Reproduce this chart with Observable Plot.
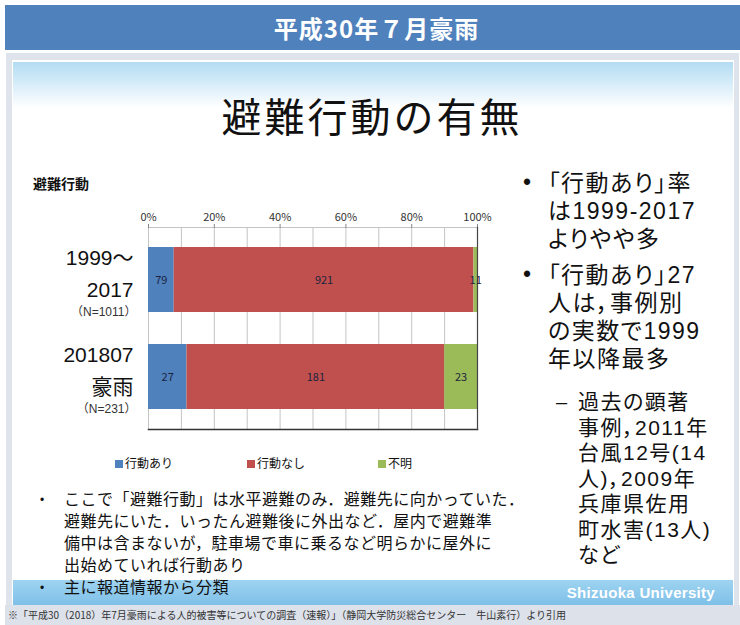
<!DOCTYPE html>
<html><head><meta charset="utf-8">
<script src="https://cdn.jsdelivr.net/npm/d3@7"></script>
<script src="https://cdn.jsdelivr.net/npm/@observablehq/plot@0.6"></script>
<style>
html,body{margin:0;padding:0;background:#fff;}
body{width:740px;height:625px;position:relative;overflow:hidden;font-family:"Noto Sans CJK JP","Noto Sans",sans-serif;color:#111;}
.abs{position:absolute;}
#header{left:5px;top:5px;width:735px;height:45px;background:#4f81bd;color:#fff;font-weight:700;font-size:24px;text-align:center;line-height:45px;padding-left:8px;letter-spacing:1px;box-sizing:border-box;}
#frame{left:6px;top:53px;width:733px;height:553px;background:#dfe3ec;}
#inner{left:12px;top:60px;width:722px;height:546px;background:#fff;}
#grad{left:13px;top:62px;width:720px;height:46px;background:linear-gradient(#b3dcf3,#ffffff);}
#title{left:0;top:90px;width:740px;text-align:center;font-size:40px;letter-spacing:3px;line-height:50px;color:#111;padding-left:4px;box-sizing:border-box;}
#sub{left:33px;top:172px;font-size:14px;font-weight:700;line-height:22px;}
#chart{left:0;top:190px;}
#legend{left:115px;top:453px;font-size:12px;line-height:20px;}
#legend span.item{position:absolute;white-space:nowrap;}
#legend i{display:inline-block;width:8px;height:8px;margin-right:2px;vertical-align:0px;}
.ln{position:absolute;white-space:nowrap;font-family:"Liberation Sans","Noto Sans CJK JP",sans-serif;}
.rt{left:548px;font-size:23px;line-height:28px;letter-spacing:1.5px;font-feature-settings:"palt";}
.sb{left:578px;font-size:21px;line-height:25px;letter-spacing:1.5px;font-feature-settings:"palt";}
.nt{left:64px;font-size:16px;line-height:22px;letter-spacing:0.5px;}
#bottomband{left:13px;top:580px;width:720px;height:25px;background:linear-gradient(#9ed3f1,#7fc0e8);}
#shizu{left:520px;top:582px;width:195px;text-align:right;color:#fff;font-family:"Liberation Sans",Arial,sans-serif;font-weight:700;font-size:15px;line-height:22px;letter-spacing:0.3px;}
#footer{left:5px;top:605px;width:735px;height:20px;background:#dde1ea;font-size:10px;line-height:20px;color:#333;padding-left:3px;box-sizing:border-box;white-space:nowrap;}
</style></head>
<body>
<div id="header" class="abs">平成30年７月豪雨</div>
<div id="frame" class="abs"></div>
<div id="inner" class="abs"></div>
<div id="grad" class="abs"></div>
<div id="bottomband" class="abs"></div>
<div id="shizu" class="abs">Shizuoka University</div>
<div id="title" class="abs">避難行動の有無</div>
<div id="sub" class="abs">避難行動</div>
<div id="chart" class="abs"></div>
<div id="legend" class="abs"></div>
<div id="texts"></div>
<div id="footer" class="abs">※「平成30（2018）年7月豪雨による人的被害等についての調査（速報）」（静岡大学防災総合センター　牛山素行）より引用</div>
<script>
const categories = ["1999～2017", "201807豪雨"];
const catLine1 = ["1999～", "201807"];
const catLine2 = ["2017", "豪雨"];
const catN = ["（N=1011）", "（N=231）"];
const series = ["行動あり", "行動なし", "不明"];
const seriesColors = ["#4f81bd", "#c0504d", "#9bbb59"];
const values1999to2017 = [79, 921, 11];
const values201807 = [27, 181, 23];
const xTickValues = [0, 0.2, 0.4, 0.6, 0.8, 1];
const xTickLabels = ["0%", "20%", "40%", "60%", "80%", "100%"];
const xGridValues = [0, 0.1, 0.2, 0.3, 0.4, 0.5, 0.6, 0.7, 0.8, 0.9, 1];

const seriesValues = [values1999to2017, values201807];
const data = categories.flatMap((c, i) => series.map((s, j) => ({cat: c, series: s, count: seriesValues[i][j]})));
const labelFont = '"Liberation Sans", "Noto Sans CJK JP", sans-serif';

const chart = Plot.plot({
  width: 500, height: 241,
  marginLeft: 148, marginRight: 23, marginTop: 37, marginBottom: 2,
  style: {fontFamily: '"Noto Sans CJK JP", "Noto Sans", sans-serif', background: "transparent", color: "#222"},
  x: {domain: [0, 1], axis: null},
  y: {domain: categories, paddingInner: 0.33, paddingOuter: 0.2, axis: null},
  color: {domain: series, range: seriesColors},
  marks: [
    Plot.ruleX(xGridValues, {stroke: "#c4c4c4", strokeWidth: 1}),
    Plot.frame({anchor: "top", stroke: "#c4c4c4"}),
    Plot.axisX({anchor: "top", label: null, ticks: xTickValues, tickFormat: d => xTickLabels[xTickValues.indexOf(d)], tickSize: 4, tickPadding: 3, fontSize: 11, stroke: "#888", fill: "#333"}),
    Plot.barX(data, Plot.stackX({offset: "normalize", x: "count", y: "cat", fill: "series"})),
    Plot.frame({anchor: "bottom", stroke: "#333", strokeWidth: 1.5}),
    Plot.frame({anchor: "right", stroke: "#444", strokeWidth: 1.2}),
    Plot.text(data, Plot.stackX({offset: "normalize", x: "count", y: "cat", z: "series", text: "count", fill: "#1b2340", fontSize: 11})),
    Plot.text(categories, {y: d => d, text: (d, i) => catLine1[i], frameAnchor: "left", textAnchor: "end", dx: -15, dy: -22, fontSize: 21, fontFamily: labelFont, fill: "#111"}),
    Plot.text(categories, {y: d => d, text: (d, i) => catLine2[i], frameAnchor: "left", textAnchor: "end", dx: -15, dy: 10, fontSize: 21, fontFamily: labelFont, fill: "#111"}),
    Plot.text(categories, {y: d => d, text: (d, i) => catN[i], frameAnchor: "left", textAnchor: "end", dx: -12, dy: 32, fontSize: 12, fontFamily: labelFont, fill: "#333"})
  ]
});
document.getElementById("chart").appendChild(chart);

const legend = document.getElementById("legend");
const legendX = [0, 132, 263];
series.forEach((s, i) => {
  const el = document.createElement("span");
  el.className = "item";
  el.style.left = legendX[i] + "px";
  el.innerHTML = `<i style="background:${seriesColors[i]}"></i>${s}`;
  legend.appendChild(el);
});

const rightBlock1 = ["「行動あり」率", "は1999-2017", "よりやや多"];
const rightBlock2 = ["「行動あり」27", "人は，事例別", "の実数で1999", "年以降最多"];
const subBlock = ["過去の顕著", "事例，2011年", "台風12号(14", "人)，2009年", "兵庫県佐用", "町水害(13人)", "など"];
const notesBlock1 = ["ここで「避難行動」は水平避難のみ．避難先に向かっていた．", "避難先にいた．いったん避難後に外出など．屋内で避難準", "備中は含まないが，駐車場で車に乗るなど明らかに屋外に", "出始めていれば行動あり"];
const notesBlock2 = ["主に報道情報から分類"];
const blocks = [
  ["rt", 183, 28, "•", 523, 23, rightBlock1],
  ["rt", 275, 28, "•", 523, 23, rightBlock2],
  ["sb", 402, 25.5, "–", 556, 20, subBlock],
  ["nt", 500, 22, "•", 40, 12, notesBlock1],
  ["nt", 588, 22, "•", 40, 12, notesBlock2]
];
const texts = document.getElementById("texts");
blocks.forEach(([cls, y0, lh, bullet, bx, bsize, lines]) => {
  const b = document.createElement("div");
  b.className = "ln";
  b.style.left = bx + "px";
  b.style.top = (y0 - bsize * 0.6) + "px";
  b.style.fontSize = bsize + "px";
  b.style.lineHeight = (bsize * 1.2) + "px";
  b.textContent = bullet;
  texts.appendChild(b);
  lines.forEach((t, k) => {
    const d = document.createElement("div");
    d.className = "ln " + cls;
    d.style.top = (y0 + k * lh - lh / 2) + "px";
    d.textContent = t;
    texts.appendChild(d);
  });
});
</script>
</body></html>
